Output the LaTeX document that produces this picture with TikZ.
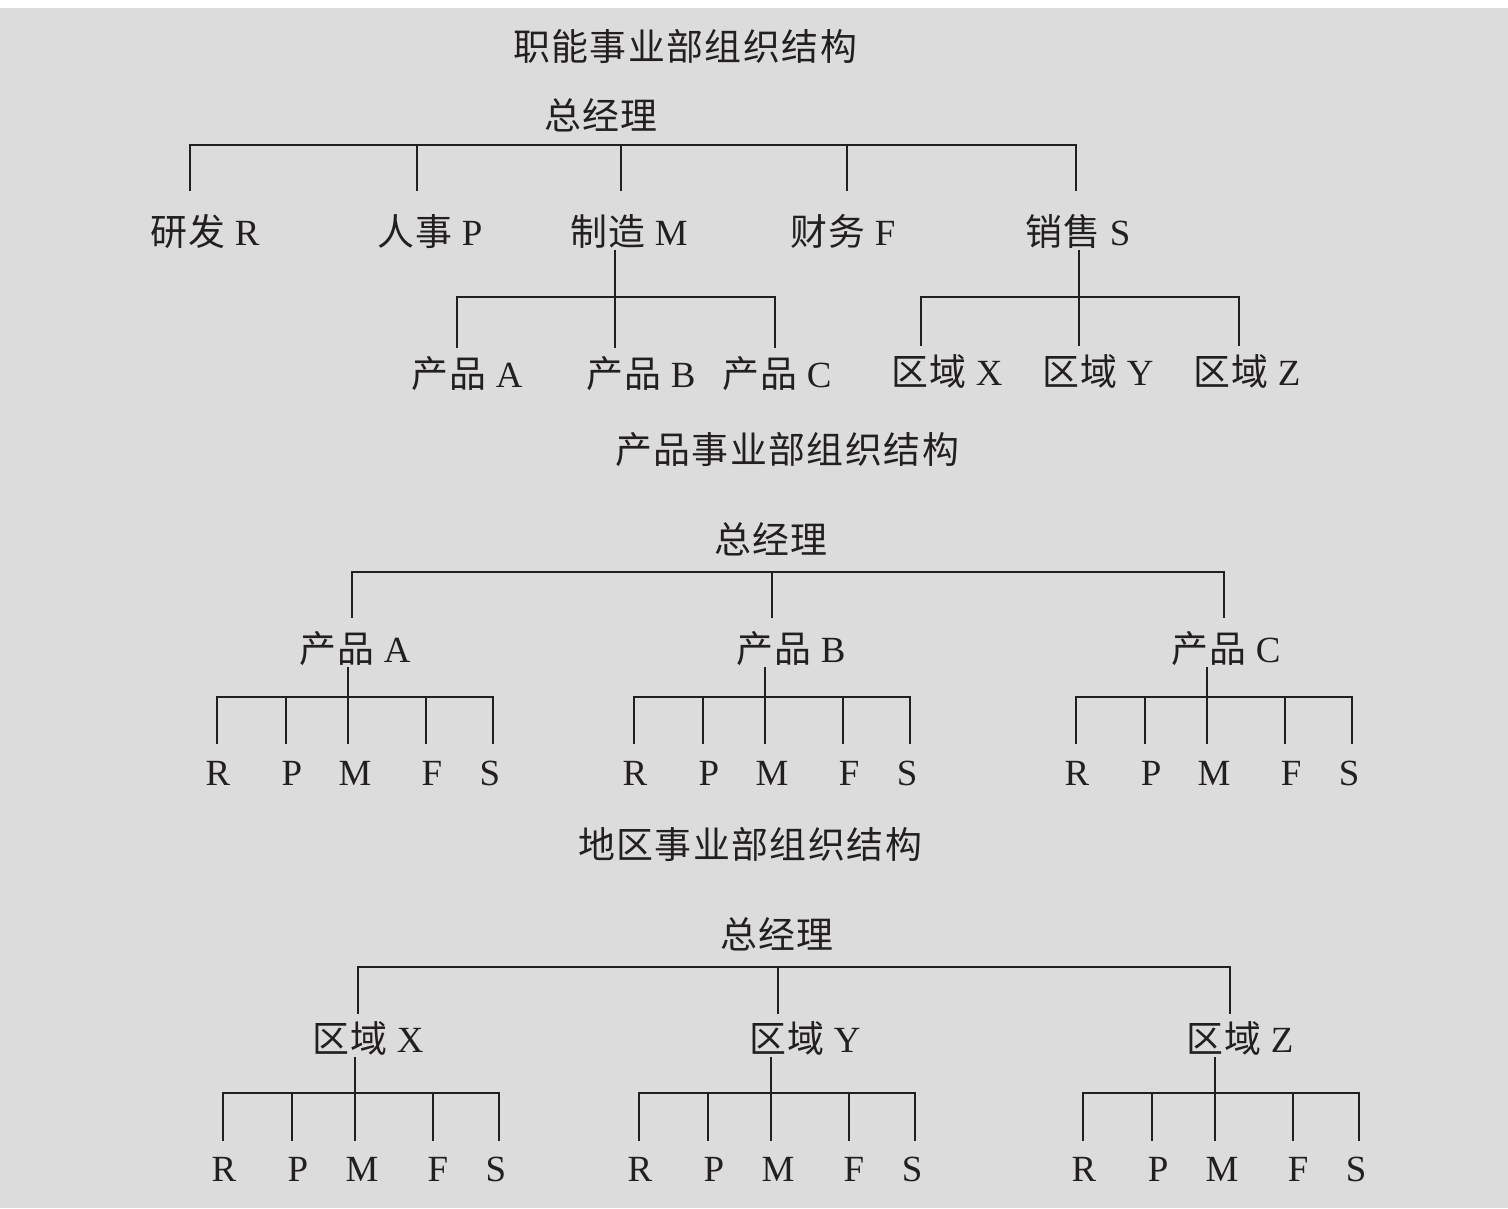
\documentclass[tikz,border=0pt]{standalone}
\usepackage{fontspec}
\setmainfont{Liberation Serif}
\newfontfamily\cjk[LetterSpace=4]{Noto Sans CJK SC}
\usetikzlibrary{positioning}
\definecolor{orgink}{RGB}{35,31,32}
\definecolor{orgbg}{RGB}{220,220,220}

\begin{document}
\begin{tikzpicture}[
    x=0.02cm, y=-0.02cm,
    ttl/.style={font=\fontsize{21}{25}\selectfont\cjk, text=orgink, inner sep=0pt, anchor=base},
    lbl/.style={font=\fontsize{21}{25}\selectfont, text=orgink, inner sep=0pt, anchor=base, text depth=0.12cm, text height=#1},
    lbl/.default=0.8cm,
    tree/.style={draw=orgink, line width=1.5pt, line cap=rect}
]
\useasboundingbox (0,0) rectangle (1508,1208);
\fill[orgbg] (0,8) rectangle (1508,1208);

% functional divisions
\node[ttl] (t1) at (685,60) {职能事业部组织结构};
\node[ttl] (gm1) at (601,129) {总经理};
\draw[tree] (190,145) -- (1076,145);
\node[lbl=1.1cm] (rnd) at (205,245) {{\cjk 研发} R};
\node[lbl=1.1cm] (hr) at (430,245) {{\cjk 人事} P};
\node[lbl=1.1cm] (mfg) at (629,245) {{\cjk 制造} M};
\node[lbl=1.1cm] (fin) at (843,245) {{\cjk 财务} F};
\node[lbl=1.1cm] (sal) at (1078,245) {{\cjk 销售} S};
\foreach \x/\nd in {190/rnd, 417/hr, 621/mfg, 847/fin, 1076/sal}
    \draw[tree] (\x,145) -- (\x,145 |- \nd.north);

\node[lbl] (mpa) at (467,387) {{\cjk 产品} A};
\node[lbl] (mpb) at (641,387) {{\cjk 产品} B};
\node[lbl] (mpc) at (777,387) {{\cjk 产品} C};
\draw[tree] (615,297 |- mfg.south) -- (615,297);
\draw[tree] (457,297) -- (775,297);
\foreach \x/\nd in {457/mpa, 615/mpb, 775/mpc}
    \draw[tree] (\x,297) -- (\x,297 |- \nd.north);

\node[lbl] (srx) at (947,385) {{\cjk 区域} X};
\node[lbl] (sry) at (1098,385) {{\cjk 区域} Y};
\node[lbl] (srz) at (1247,385) {{\cjk 区域} Z};
\draw[tree] (1079,297 |- sal.south) -- (1079,297);
\draw[tree] (921,297) -- (1239,297);
\foreach \x/\nd in {921/srx, 1079/sry, 1239/srz}
    \draw[tree] (\x,297) -- (\x,297 |- \nd.north);

% product divisions
\node[ttl] (t2) at (787,463) {产品事业部组织结构};
\node[ttl] (gm2) at (771,553) {总经理};
\draw[tree] (352,572) -- (1224,572);
\node[lbl=0.9cm] (pa) at (355,662) {{\cjk 产品} A};
\node[lbl=0.9cm] (pb) at (791,662) {{\cjk 产品} B};
\node[lbl=0.9cm] (pc) at (1226,662) {{\cjk 产品} C};
\foreach \x/\nd in {352/pa, 772/pb, 1224/pc}
    \draw[tree] (\x,572) -- (\x,572 |- \nd.north);

\foreach \nd/\x in {pa/217, pb/634, pc/1076} {
    \draw[tree] (\x,697) -- ++(276,0);
    \draw[tree] (\x+131,697 |- \nd.south) -- (\x+131,697);
    \foreach \dx/\lt/\lx in {0/R/1, 69/P/75, 131/M/138, 209/F/215, 276/S/273} {
        \node[lbl=0.84cm] (\nd\lt) at (\x+\lx,785) {\lt};
        \draw[tree] (\x+\dx,697) -- (\x+\dx,697 |- \nd\lt.north);
    }
}

% regional divisions
\node[ttl] (t3) at (750,858) {地区事业部组织结构};
\node[ttl] (gm3) at (777,948) {总经理};
\draw[tree] (358,967) -- (1230,967);
\node[lbl=0.78cm] (rx) at (368,1052) {{\cjk 区域} X};
\node[lbl=0.78cm] (ry) at (805,1052) {{\cjk 区域} Y};
\node[lbl=0.78cm] (rz) at (1240,1052) {{\cjk 区域} Z};
\foreach \x/\nd in {358/rx, 778/ry, 1230/rz}
    \draw[tree] (\x,967) -- (\x,967 |- \nd.north);

\foreach \nd/\x in {rx/223, ry/639, rz/1083} {
    \draw[tree] (\x,1093) -- ++(276,0);
    \draw[tree] (\x+132,1093 |- \nd.south) -- (\x+132,1093);
    \foreach \dx/\lt/\lx in {0/R/1, 69/P/75, 132/M/139, 210/F/215, 276/S/273} {
        \node[lbl=0.82cm] (\nd\lt) at (\x+\lx,1181) {\lt};
        \draw[tree] (\x+\dx,1093) -- (\x+\dx,1093 |- \nd\lt.north);
    }
}
\end{tikzpicture}
\end{document}
